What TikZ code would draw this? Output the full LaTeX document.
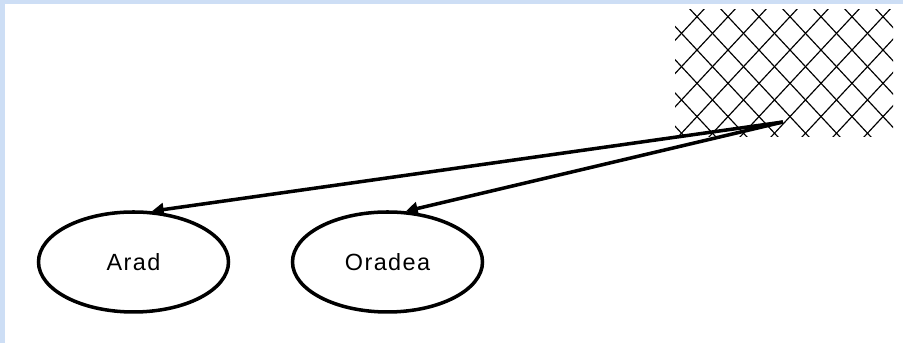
\documentclass[tikz,border=0pt]{standalone}
\usepackage{fontspec}
\usepackage{tikz}
\usetikzlibrary{arrows.meta,shapes.geometric}
\setmainfont{Liberation Sans}
\newfontfamily\labelfont[LetterSpace=6]{Liberation Sans}
\definecolor{pageblue}{RGB}{205,222,245}

\begin{document}
\begin{tikzpicture}[
  city/.style={draw, ellipse, line width=3pt, minimum width=5.7cm, minimum height=3cm, inner sep=0pt, font=\labelfont\fontsize{20}{22}\selectfont},
  road/.style={line width=3pt, -{Triangle[length=10pt,width=11pt]}},
  hatchline/.style={line width=1pt}]
\useasboundingbox (0,0) rectangle (27.09,10.29);
\fill[pageblue] (0,0) rectangle (0.15,10.29);
\fill[pageblue] (0,10.17) rectangle (27.09,10.29);
\begin{scope}
\clip (20.25,6.18) rectangle (26.79,9.99);
\foreach \k in {-5,...,11} {
  \draw[hatchline] (20.527+0.93*\k,10.2) -- (24.438+0.93*\k,6.0);
  \draw[hatchline] (21.293+0.93*\k,10.2) -- (17.382+0.93*\k,6.0);
}
\end{scope}
\node[city] (arad) at (4.005,2.43) {Arad};
\node[city] (oradea) at (11.625,2.43) {Oradea};
\coordinate (src) at (23.49,6.63);
\draw[road] (src) -- (arad.70);
\draw[road] (src) -- (oradea.70);
\end{tikzpicture}
\end{document}
